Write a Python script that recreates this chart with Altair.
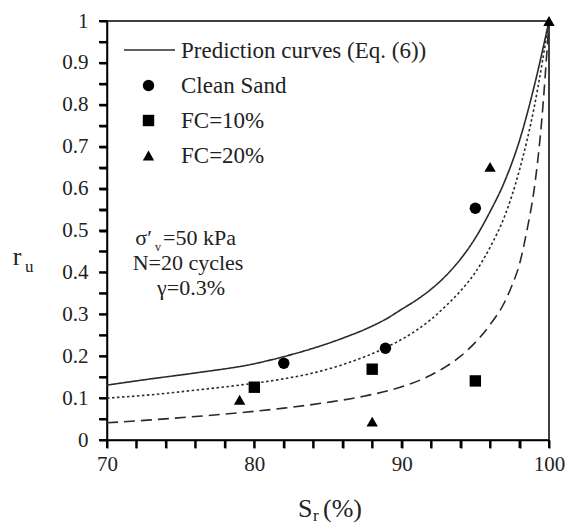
import altair as alt
import pandas as pd

FONT = "'Liberation Serif', 'Times New Roman', serif"

# ---- Prediction curves (Eq. (6)) ----
solid_x = [70, 73, 76, 80, 82, 84, 86, 88, 89, 90, 91, 92, 93, 94, 95, 96, 97, 98, 99, 100]
solid_y = [0.131, 0.146, 0.160, 0.182, 0.199, 0.219, 0.243, 0.272, 0.290, 0.312, 0.334,
           0.360, 0.392, 0.432, 0.482, 0.545, 0.618, 0.715, 0.845, 1.000]

dotted_x = [70, 73, 76, 79, 82, 84, 86, 88, 89, 90, 92, 93, 94, 95, 96, 97, 98, 99, 100]
dotted_y = [0.100, 0.108, 0.119, 0.131, 0.146, 0.160, 0.180, 0.206, 0.222, 0.240,
            0.288, 0.320, 0.356, 0.400, 0.460, 0.535, 0.645, 0.795, 1.000]

dashed_x = [70, 73, 76, 79, 82, 85, 87.5, 90, 92, 93, 94, 95, 96, 97, 97.5, 98, 98.5, 99, 99.5, 100]
dashed_y = [0.041, 0.048, 0.056, 0.065, 0.076, 0.090, 0.105, 0.127, 0.155, 0.175, 0.200,
            0.233, 0.275, 0.330, 0.370, 0.420, 0.500, 0.600, 0.760, 1.000]

curve_names = ["Clean Sand", "FC=10%", "FC=20%"]

# ---- Measured data ----
clean_x = [82, 88.9, 95]
clean_y = [0.183, 0.219, 0.553]
fc10_x = [80, 88, 95]
fc10_y = [0.126, 0.169, 0.141]
fc20_x = [79, 88, 96, 100]
fc20_y = [0.096, 0.044, 0.652, 1.0]

legend_items = ["Prediction curves (Eq. (6))", "Clean Sand", "FC=10%", "FC=20%"]

x_ticks = list(range(70, 101, 2))
y_ticks = [i / 100 for i in range(0, 101, 5)]

curves = pd.concat([
    pd.DataFrame({"Sr": solid_x, "ru": solid_y, "curve": curve_names[0]}),
    pd.DataFrame({"Sr": dotted_x, "ru": dotted_y, "curve": curve_names[1]}),
    pd.DataFrame({"Sr": dashed_x, "ru": dashed_y, "curve": curve_names[2]}),
])
points = pd.concat([
    pd.DataFrame({"Sr": clean_x, "ru": clean_y, "group": "Clean Sand"}),
    pd.DataFrame({"Sr": fc10_x, "ru": fc10_y, "group": "FC=10%"}),
    pd.DataFrame({"Sr": fc20_x, "ru": fc20_y, "group": "FC=20%"}),
])

axis_style = dict(tickCount=100, title=None, labelOverlap=False, labelFlush=False,
                  ticks=True, tickColor="#000000", tickWidth=2, tickSize=8, tickOpacity=1,
                  tickRound=True, domainColor="black", domainWidth=1.5, grid=False,
                  labelFont=FONT, labelFontSize=21, labelColor="#222")

x_enc = alt.X("Sr:Q", scale=alt.Scale(domain=[70, 100], nice=False, zero=False),
              axis=alt.Axis(values=x_ticks, labelPadding=5,
                            labelExpr="datum.value % 10 == 0 ? format(datum.value, 'd') : ''",
                            **axis_style))
y_enc = alt.Y("ru:Q", scale=alt.Scale(domain=[0, 1], nice=False),
              axis=alt.Axis(values=y_ticks, labelPadding=11,
                            labelExpr="round(datum.value * 100) % 10 == 0 ? format(datum.value, '~g') : ''",
                            **axis_style))

curve_chart = alt.Chart(curves).mark_line(interpolate="monotone", color="#2a2a2a", strokeWidth=1.6).encode(
    x=x_enc,
    y=y_enc,
    strokeDash=alt.StrokeDash("curve:N",
                              scale=alt.Scale(domain=curve_names, range=[[1, 0], [2.5, 2.5], [11, 6]]),
                              legend=None),
)

# additional tick marks (outward), drawn from the tick value lists
x_tick_marks = alt.Chart(pd.DataFrame({"Sr": x_ticks})).mark_rule(
    color="black", strokeWidth=2, clip=False
).encode(x="Sr:Q", y=alt.value(419), y2=alt.value(427))
y_tick_marks = alt.Chart(pd.DataFrame({"ru": y_ticks})).mark_rule(
    color="black", strokeWidth=2, clip=False
).encode(y="ru:Q", x=alt.value(-8), x2=alt.value(0))

point_chart = alt.Chart(points).mark_point(filled=True, color="black", opacity=1, size=130).encode(
    x="Sr:Q",
    y="ru:Q",
    shape=alt.Shape("group:N",
                    scale=alt.Scale(domain=legend_items,
                                    range=["M-4.5,0H4.5", "circle", "square", "triangle-up"]),
                    legend=alt.Legend(title=None, orient="none", legendX=30, legendY=18,
                                      labelFont=FONT, labelFontSize=23, labelColor="#222",
                                      labelLimit=400, labelOffset=21, rowPadding=11, padding=0,
                                      symbolStrokeColor="black", symbolFillColor="black",
                                      symbolStrokeWidth=1.5, symbolSize=130, symbolOpacity=1)),
)

# legend line sample for the prediction curves
legend_line = alt.Chart(pd.DataFrame({"k": [legend_items[0]]})).mark_rule(
    color="#2a2a2a", strokeWidth=1.6
).encode(x=alt.value(17), x2=alt.value(68), y=alt.value(29))

# ---- Text annotations (text, x px, y px, size, align) ----
ann_text = ["σ′", "v", "=50 kPa", "N=20 cycles", "γ=0.3%", "r", "u", "S", "r", "(%)"]
ann_x = [45, 48, 56, 81, 84, -90, -82, 191, 206, 216]
ann_y = [224, 230, 224, 249, 274, 244, 251, 496, 500, 496]
ann_size = [22, 12, 22, 22, 22, 26, 17, 26, 17, 26]
ann_align = ["right", "left", "left", "center", "center", "center", "left", "left", "left", "left"]

text_layers = []
for t, xv, yv, s, a in zip(ann_text, ann_x, ann_y, ann_size, ann_align):
    text_layers.append(
        alt.Chart(pd.DataFrame({"t": [t]})).mark_text(
            font=FONT, fontSize=s, align=a, baseline="alphabetic", color="#222"
        ).encode(x=alt.value(xv), y=alt.value(yv), text="t:N")
    )

chart = alt.layer(curve_chart, point_chart, legend_line, *text_layers,
                  x_tick_marks, y_tick_marks).properties(
    width=442, height=419,
    background="white",
    autosize=alt.AutoSizeParams(type="none"),
    padding={"left": 107, "top": 21, "right": 20, "bottom": 85},
).configure_view(
    stroke="black", strokeWidth=1.5
).configure_axis(
    grid=False, domainColor="black", domainWidth=1.5,
    labelFont=FONT, labelFontSize=21, labelColor="#222",
).configure_legend(
    labelFont=FONT
).configure_text(
    font=FONT
)

chart.save("out.html", embed_options={"renderer": "svg", "actions": False})
